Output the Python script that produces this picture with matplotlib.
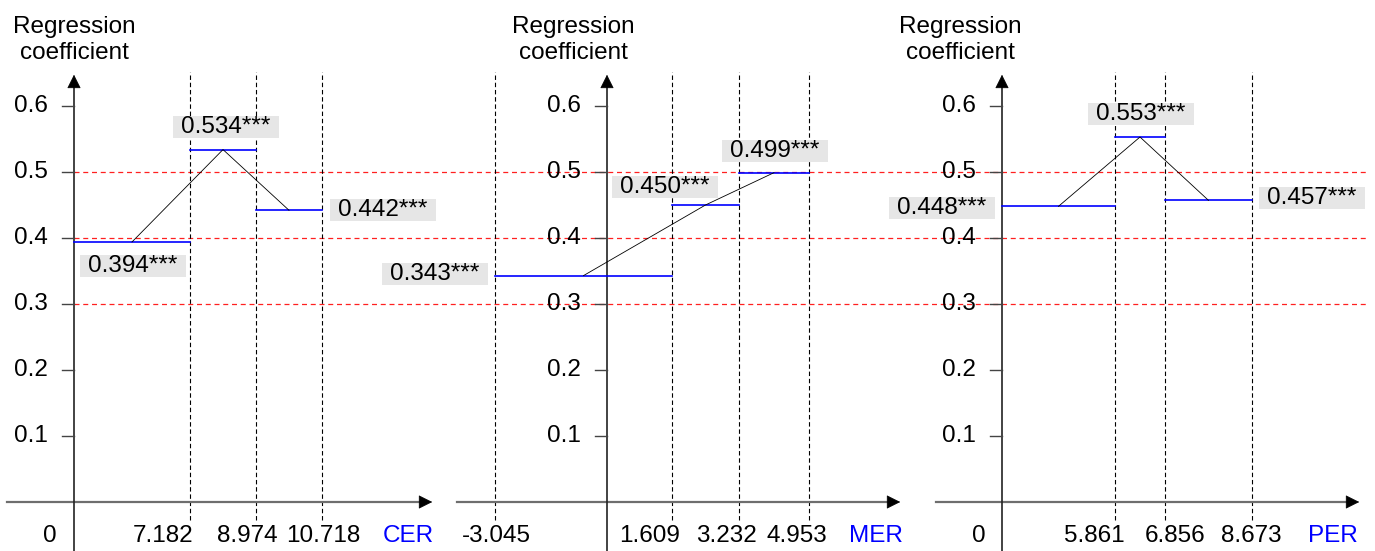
import matplotlib
matplotlib.use("Agg")
from matplotlib import pyplot as plt
from matplotlib.patches import Rectangle

plt.rcParams['font.family'] = ['Liberation Sans', 'DejaVu Sans']

# data
variables = ['CER', 'MER', 'PER']
threshold_labels = [['0', '7.182', '8.974', '10.718'],
                    ['-3.045', '1.609', '3.232', '4.953'],
                    ['0', '5.861', '6.856', '8.673']]
coef_cer = [0.394, 0.534, 0.442]
coef_mer = [0.343, 0.450, 0.499]
coef_per = [0.448, 0.553, 0.457]
coefs = [coef_cer, coef_mer, coef_per]
y_ticks = [0.1, 0.2, 0.3, 0.4, 0.5, 0.6]
ref_lines = [0.3, 0.4, 0.5]

# layout (pixels across the figure; y axis uses coefficient units)
px_per_unit = 660.0
y_zero_px = 502
yaxis_x = [74, 607, 1002]
xaxis_span = [(7, 435), (457, 903), (936, 1362)]
seg_edges = [[74, 190, 256, 322], [495, 672, 739, 809], [1002, 1115, 1165, 1252]]
dashed_x = [[190, 256, 322], [495, 672, 739, 809], [1115, 1165, 1252]]
xlabel_x = [[50, 163, 247, 323, 408], [496, 650, 726, 797, 876], [979, 1094, 1175, 1251, 1333]]
title_x = [74, 573, 960]
# label box centers: (x px, y px)
box_pos = [[(133, 266), (226, 127), (383, 210)],
           [(435, 274), (665, 187), (775, 151)],
           [(942, 208), (1141, 114), (1312, 198)]]
fs = 17.5


def v(ypx):
    return (y_zero_px - ypx) / px_per_unit


fig = plt.figure(figsize=(13.75, 5.51), dpi=100)
ax = fig.add_axes([0, 0, 1, 1])
ax.set_xlim(0, 1375)
ax.set_ylim(v(551), v(0))
ax.axis('off')

# red reference lines across all panels
for r in ref_lines:
    ax.plot([74, 1366], [r, r], color='#ff2020', lw=0.9, ls=(0, (4, 3)), zorder=1)

for i in range(3):
    x0 = yaxis_x[i]
    # dashed threshold lines
    for xd in dashed_x[i]:
        ax.plot([xd, xd], [v(520), v(72)], color='black', lw=0.8, ls=(0, (4, 2.5)), zorder=1)
    # x axis
    xa, xb = xaxis_span[i]
    ax.plot([xa, xb - 10], [0, 0], color='#6e6e6e', lw=1.6, zorder=2)
    ax.annotate('', xy=(xb, 0), xytext=(xb - 12, 0),
                arrowprops=dict(arrowstyle='-|>', color='black', lw=0.5, mutation_scale=22))
    # y axis
    ax.plot([x0, x0], [v(551), v(85)], color='#222222', lw=1.2, zorder=2)
    ax.annotate('', xy=(x0, v(72)), xytext=(x0, v(86)),
                arrowprops=dict(arrowstyle='-|>', color='black', lw=0.5, mutation_scale=22))
    for t in y_ticks:
        ax.plot([x0 - 12, x0], [t, t], color='#444444', lw=1.0, zorder=2)
        ax.text(x0 - 26, t, '%.1f' % t, ha='right', va='center', fontsize=fs)
    ax.text(title_x[i], v(40), 'Regression\ncoefficient', ha='center', va='center',
            fontsize=fs, linespacing=1.28)
    # x labels
    for lab, xl in zip(threshold_labels[i], xlabel_x[i]):
        ax.text(xl, v(536), lab, ha='center', va='center', fontsize=fs)
    ax.text(xlabel_x[i][4], v(536), variables[i], ha='center', va='center',
            fontsize=fs, color='#0000ff')
    # regime segments
    edges = seg_edges[i]
    mids = []
    for k, c in enumerate(coefs[i]):
        ax.plot([edges[k], edges[k + 1]], [c, c], color='#0000ff', lw=1.2, zorder=3)
        mids.append((edges[k] + edges[k + 1]) / 2)
    ax.plot(mids, coefs[i], color='black', lw=0.6, zorder=3)
    # value labels
    for (bx, by), c in zip(box_pos[i], coefs[i]):
        w, h = 106, 22
        ax.add_patch(Rectangle((bx - w / 2, v(by + h / 2)), w, h / px_per_unit,
                               facecolor='#e6e6e6', edgecolor='none', zorder=4))
        ax.text(bx, v(by), '%.3f***' % c, ha='center', va='center', fontsize=fs, zorder=5)

fig.savefig('out.png', dpi=100)
